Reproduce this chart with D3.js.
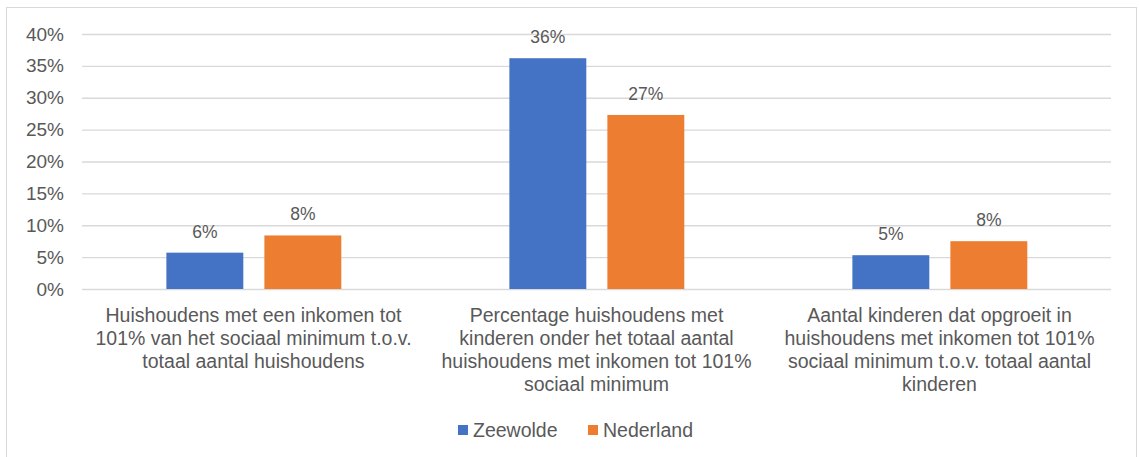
<!DOCTYPE html>
<html>
<head>
<meta charset="utf-8">
<script src="https://cdn.jsdelivr.net/npm/d3@7"></script>
<style>
  html, body { margin: 0; padding: 0; background: #fff; }
  svg { display: block; }
  text { font-family: "Liberation Sans", Arial, sans-serif; fill: #595959; }
</style>
</head>
<body>
<script>
const categories = [
  "Huishoudens met een inkomen tot|101% van het sociaal minimum t.o.v.|totaal aantal huishoudens",
  "Percentage huishoudens met|kinderen onder het totaal aantal|huishoudens met inkomen tot 101%|sociaal minimum",
  "Aantal kinderen dat opgroeit in|huishoudens met inkomen tot 101%|sociaal minimum t.o.v. totaal aantal|kinderen"
];
const seriesNames = ["Zeewolde", "Nederland"];
const zeewolde = [0.057, 0.362, 0.053];
const nederland = [0.084, 0.273, 0.075];
const zeewoldeLabels = ["6%", "36%", "5%"];
const nederlandLabels = ["8%", "27%", "8%"];
const yTicks = [0, 0.05, 0.10, 0.15, 0.20, 0.25, 0.30, 0.35, 0.40];
const colors = ["#4472C4", "#ED7D31"];

(function () {
const W = 1139, H = 457;
const svg = d3.select("body").append("svg").attr("width", W).attr("height", H);

// chart border
svg.append("rect").attr("x", 6.5).attr("y", 7.5).attr("width", 1130).attr("height", 460)
  .attr("fill", "#fff").attr("stroke", "#d9d9d9").attr("stroke-width", 1);

const pLeft = 82, pRight = 1111, pTop = 34, pBottom = 289;
const y = d3.scaleLinear().domain([0, 0.40]).range([pBottom, pTop]);
const x0 = d3.scaleBand().domain(d3.range(categories.length)).range([pLeft, pRight]).padding(0);
const x1 = d3.scaleBand().domain(seriesNames).range([x0.bandwidth() * 0.246, x0.bandwidth() * 0.756]).paddingInner(0.215);

// gridlines
const yAxis = d3.axisLeft(y).tickValues(yTicks).tickFormat(d3.format(".0%")).tickSize(-(pRight - pLeft)).tickPadding(18);
const gAxis = svg.append("g").attr("transform", `translate(${pLeft},0)`).call(yAxis);
gAxis.select(".domain").remove();
gAxis.selectAll(".tick line").attr("stroke", "#d9d9d9").attr("stroke-width", 1.3);
gAxis.selectAll(".tick text").attr("font-size", 19).attr("fill", "#595959")
  .attr("font-family", "'Liberation Sans', Arial, sans-serif");

const data = [zeewolde, nederland];
const labels = [zeewoldeLabels, nederlandLabels];

seriesNames.forEach((s, si) => {
  const g = svg.append("g");
  g.selectAll("rect").data(data[si]).join("rect")
    .attr("x", (d, i) => x0(i) + x1(s))
    .attr("y", d => y(d))
    .attr("width", x1.bandwidth())
    .attr("height", d => y(0) - y(d))
    .attr("fill", colors[si]);
  g.selectAll("text").data(data[si]).join("text")
    .attr("x", (d, i) => x0(i) + x1(s) + x1.bandwidth() / 2)
    .attr("y", d => y(d) - 15)
    .attr("text-anchor", "middle")
    .attr("font-size", 17.5)
    .text((d, i) => labels[si][i]);
});

// category labels
categories.forEach((c, i) => {
  const cx = x0(i) + x0.bandwidth() / 2;
  const t = svg.append("text").attr("x", cx).attr("y", 322)
    .attr("text-anchor", "middle").attr("font-size", 19.5);
  c.split("|").forEach((line, li) => {
    t.append("tspan").attr("x", cx).attr("y", 322 + li * 23).text(line);
  });
});

// legend
const legendItems = [{ name: seriesNames[0], x: 458 }, { name: seriesNames[1], x: 588 }];
legendItems.forEach((it, i) => {
  svg.append("rect").attr("x", it.x).attr("y", 425).attr("width", 10).attr("height", 10).attr("fill", colors[i]);
  svg.append("text").attr("x", it.x + 15).attr("y", 437).attr("font-size", 19.5).text(it.name);
});
})();
</script>
</body>
</html>
